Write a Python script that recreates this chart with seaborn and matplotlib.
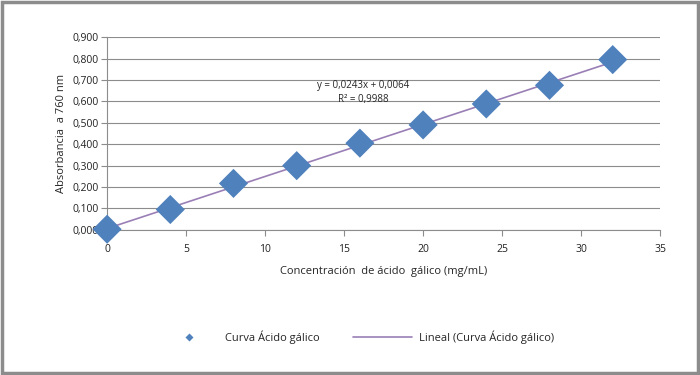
import seaborn as sns
import numpy as np
import matplotlib.pyplot as plt
import pandas as pd
from matplotlib.patches import Rectangle
from matplotlib.lines import Line2D

# datos de la curva de calibración
conc = [0, 4, 8, 12, 16, 20, 24, 28, 32]
absorb = [0.003, 0.095, 0.217, 0.300, 0.405, 0.490, 0.588, 0.675, 0.795]
slope = 0.0243
intercept = 0.0064
y_ticks = [0.0, 0.1, 0.2, 0.3, 0.4, 0.5, 0.6, 0.7, 0.8, 0.9]
x_ticks = [0, 5, 10, 15, 20, 25, 30, 35]

sns.set_theme(style='white')
plt.rcParams['font.family'] = ['Open Sans', 'DejaVu Sans']

df = pd.DataFrame({'x': conc, 'y': absorb})

fig = plt.figure(figsize=(7, 3.75), dpi=100)
ax = fig.add_axes([0.153, 0.387, 0.79, 0.514])

# linea de tendencia
xt = np.array([conc[0], conc[-1]])
ax.plot(xt, slope * xt + intercept, color='#9A7FB6', linewidth=1.2, zorder=2)

sns.scatterplot(data=df, x='x', y='y', marker='D', s=220, color='#4F81BD',
                edgecolor='none', ax=ax, zorder=3, clip_on=False)

ax.set_xlim(0, 35)
ax.set_ylim(0, 0.9)
ax.set_xticks(x_ticks)
ax.set_yticks(y_ticks)
ax.set_yticklabels([f'{v:.3f}'.replace('.', ',') for v in y_ticks])
ax.yaxis.grid(True, color='#8C8C8C', linewidth=0.8)
ax.set_axisbelow(True)
for s in ['top', 'right']:
    ax.spines[s].set_visible(False)
for s in ['left', 'bottom']:
    ax.spines[s].set_color('#8C8C8C')
    ax.spines[s].set_linewidth(0.8)
ax.tick_params(axis='both', direction='out', length=4, width=0.8, color='#8C8C8C',
               labelsize=7.5, labelcolor='#222222', bottom=True, left=True)
ax.tick_params(axis='x', pad=6)
ax.tick_params(axis='y', pad=2)

ax.set_xlabel('Concentración  de ácido  gálico (mg/mL)', fontsize=8, labelpad=8)
ax.set_ylabel('Absorbancia  a 760 nm', fontsize=8, labelpad=4)

ax.text(16.2, 0.676, 'y = 0,0243x + 0,0064', fontsize=7, ha='center', va='center')
ax.text(16.2, 0.611, 'R² = 0,9988', fontsize=7, ha='center', va='center')

handles = [Line2D([0], [0], marker='D', color='none', markerfacecolor='#4F81BD',
                  markeredgecolor='none', markersize=4),
           Line2D([0], [0], color='#9A7FB6', linewidth=1.2)]
fig.legend(handles, ['Curva Ácido gálico', 'Lineal (Curva Ácido gálico)'],
           loc='center', bbox_to_anchor=(0.51, 0.1), ncol=2, frameon=False,
           fontsize=8, handlelength=5.3, columnspacing=3, handletextpad=0.6)

fig.patches.append(Rectangle((0.003, 0.005), 0.994, 0.99, transform=fig.transFigure,
                             fill=False, edgecolor='#8C8C8C', linewidth=2.5))

plt.savefig('out.png', dpi=100)
